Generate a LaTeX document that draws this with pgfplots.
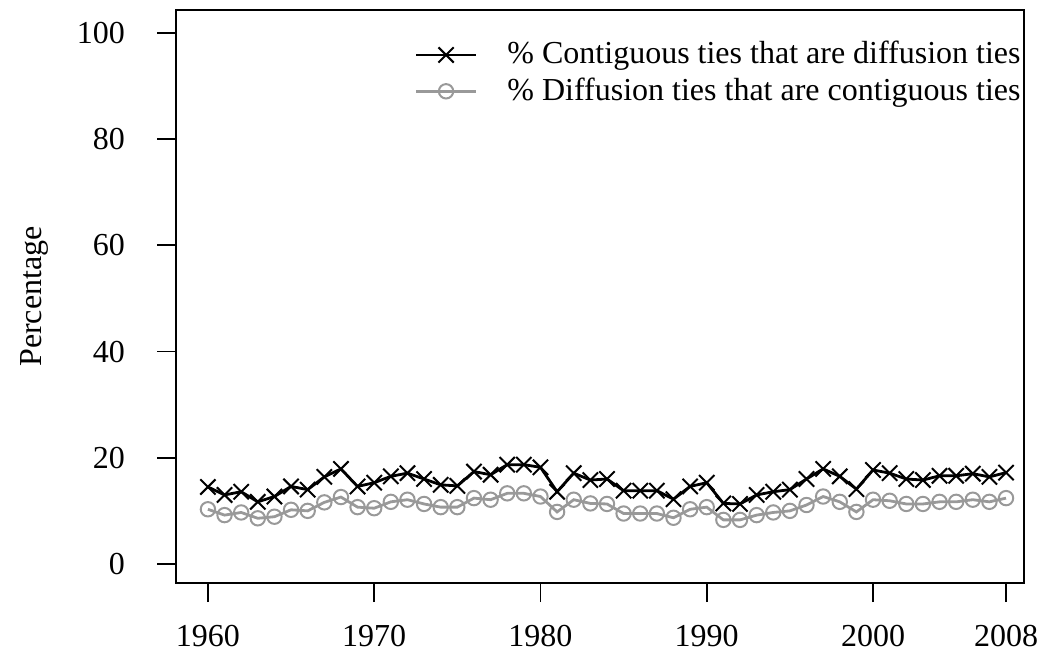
\documentclass[border=0pt]{standalone}
\usepackage{pgfplots}
\pgfplotsset{compat=1.18}
\usepackage{fontspec}
\setmainfont{Liberation Serif}
\definecolor{lgrey}{RGB}{153,153,153}
\begin{document}
\fontsize{16}{19}\selectfont
\begin{tikzpicture}[x=1pt,y=1pt]
\path[use as bounding box] (-88,-39.5) rectangle (433,291.5);
\begin{axis}[
  at={(0,0)}, anchor=south west,
  scale only axis, width=424pt, height=286.5pt,
  xmin=1958.08, xmax=2009.08, ymin=-3.58, ymax=104.3,
  axis line style={line width=0.8pt},
  tick style={line width=0.8pt, black},
  tick align=outside, tick pos=left,
  major tick length=9.5pt,
  xtick={1960,1970,1980,1990,2000,2008},
  ytick={0,20,40,60,80,100},
  /pgf/number format/1000 sep={},
  /pgf/number format/assume math mode=true,
  ticklabel style={font=\fontsize{16}{19}\selectfont},
  xticklabel style={yshift=-6pt},
  yticklabel style={xshift=-10.5pt},
  ylabel={Percentage},
  ylabel style={at={(axis description cs:-0.1663,0.5)}, anchor=center, font=\fontsize{16}{19}\selectfont},
  legend style={at={(axis description cs:1,0.96)}, anchor=north east, xshift=-1.5pt, draw=none, fill=none,
    font=\fontsize{16}{19}\selectfont, row sep=0.5pt, column sep=15pt, inner xsep=0pt,
    nodes={inner xsep=0pt}},
  legend cell align=left,
  legend image code/.code={\draw[mark repeat=2,mark phase=2] plot coordinates {(0pt,0pt) (15pt,0pt) (30pt,0pt)};},
]
\addplot[black, line width=1.4pt, mark=x, mark size=5.4pt, mark options={line width=1pt}] coordinates {
(1960,14.5) (1961,13.0) (1962,13.6) (1963,11.7) (1964,12.7) (1965,14.6) (1966,14.0) (1967,16.4) (1968,17.9)
(1969,14.6) (1970,15.3) (1971,16.5) (1972,17.1) (1973,16.0) (1974,14.9) (1975,14.7) (1976,17.4) (1977,16.8)
(1978,18.7) (1979,18.7) (1980,18.2) (1981,13.6) (1982,17.1) (1983,15.8) (1984,16.0) (1985,13.8) (1986,13.8)
(1987,13.8) (1988,12.2) (1989,14.6) (1990,15.3) (1991,11.4) (1992,11.3) (1993,13.0) (1994,13.6) (1995,14.0)
(1996,16.0) (1997,17.9) (1998,16.5) (1999,14.1) (2000,17.7) (2001,17.1) (2002,16.0) (2003,15.8) (2004,16.6)
(2005,16.6) (2006,17.0) (2007,16.4) (2008,17.2)
};
\addlegendentry{\% Contiguous ties that are diffusion ties}
\addplot[lgrey, line width=1.4pt, mark=o, mark size=3.6pt, mark options={line width=1pt}] coordinates {
(1960,10.3) (1961,9.2) (1962,9.7) (1963,8.6) (1964,8.9) (1965,10.2) (1966,10.0) (1967,11.6) (1968,12.6)
(1969,10.7) (1970,10.5) (1971,11.7) (1972,12.1) (1973,11.3) (1974,10.7) (1975,10.7) (1976,12.4) (1977,12.1)
(1978,13.3) (1979,13.3) (1980,12.7) (1981,9.8) (1982,12.1) (1983,11.4) (1984,11.3) (1985,9.5) (1986,9.5)
(1987,9.5) (1988,8.7) (1989,10.3) (1990,10.7) (1991,8.3) (1992,8.3) (1993,9.2) (1994,9.7) (1995,10.0)
(1996,11.1) (1997,12.7) (1998,11.7) (1999,9.8) (2000,12.1) (2001,11.9) (2002,11.3) (2003,11.3) (2004,11.7)
(2005,11.7) (2006,12.1) (2007,11.7) (2008,12.4)
};
\addlegendentry{\% Diffusion ties that are contiguous ties}
\end{axis}
\end{tikzpicture}
\end{document}
